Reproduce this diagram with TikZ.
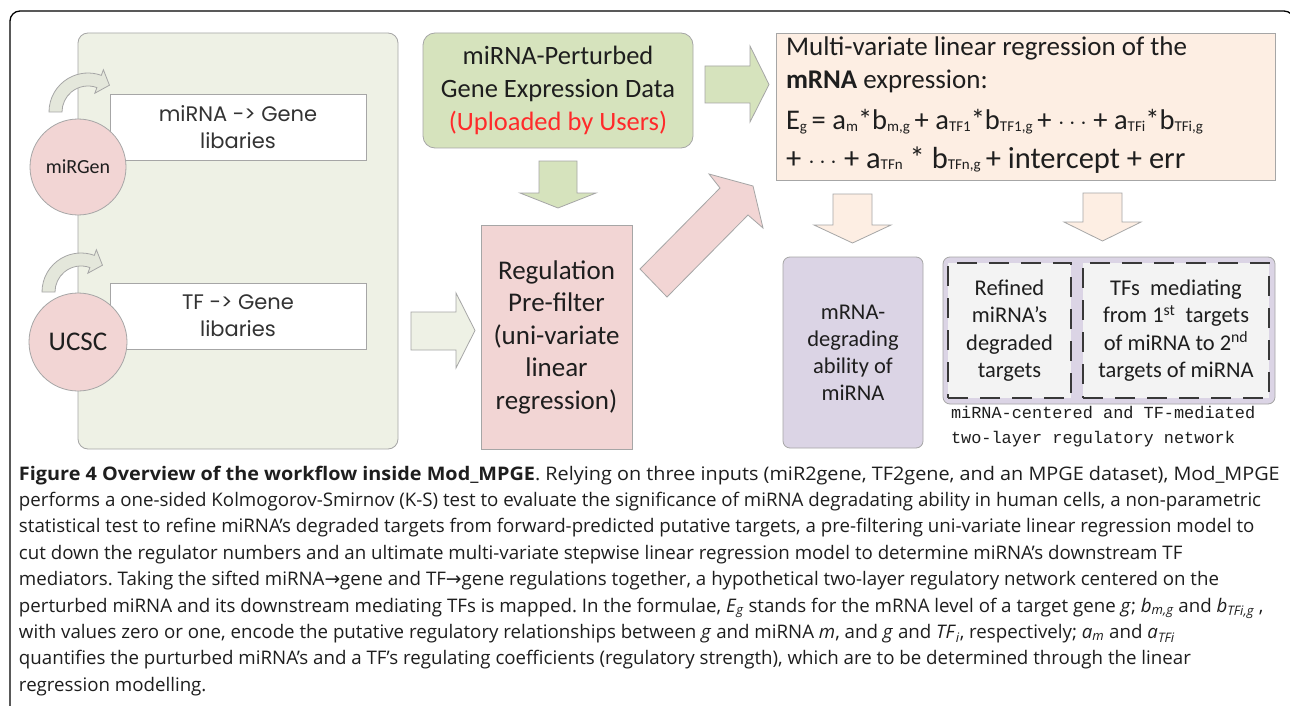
\documentclass[tikz,border=0pt]{standalone}
\usepackage{fontspec}
\setmainfont{Carlito}
\newfontfamily\capfont{Open Sans}
\newfontfamily\geofont{Poppins}
\newfontfamily\monofont{Liberation Mono}
\newfontfamily\arrfont{DejaVu Sans}
\usetikzlibrary{calc}
\definecolor{panelg}{HTML}{EEF1E5}
\definecolor{datag}{HTML}{D6E3BD}
\definecolor{pinkf}{HTML}{F2D5D4}
\definecolor{peach}{HTML}{FDEEE3}
\definecolor{lav}{HTML}{DBD4E5}
\definecolor{dashf}{HTML}{F3F3F3}
\definecolor{edge}{HTML}{A6A6A6}
\definecolor{curvf}{HTML}{E4E7DB}
\definecolor{redtxt}{HTML}{FF2A2A}
\definecolor{txt}{HTML}{1E1E1E}
\newcommand\sbx[1]{\raisebox{-1.5pt}{\fontsize{15}{15}\selectfont #1}}
\newcommand\capsub[1]{\textsubscript{\itshape #1}}
\frenchspacing
\begin{document}
\begin{tikzpicture}[x=1pt,y=-1pt,
  every node/.style={inner sep=0pt,outer sep=0pt,text=txt},
  boxline/.style={draw=edge,line width=0.8pt},
  libbox/.style={boxline,fill=white,minimum width=256pt,minimum height=66pt,align=center,font=\geofont\fontsize{21}{27}\selectfont,text=black!80},
  dbcircle/.style={boxline,circle,fill=pinkf},
  blockarrow/.style={boxline,line join=miter},
  dashbox/.style={draw=black!78,line width=1.8pt,dash pattern=on 20pt off 12pt,fill=dashf,minimum height=135pt,align=center,font=\fontsize{22.5}{27.3}\selectfont},
  capline/.style={anchor=base west,font=\capfont\fontsize{18.7}{22}\selectfont}
]
\useasboundingbox (0,0) rectangle (1290,706);
\clip (0,0) rectangle (1290,706);
\fill[white] (0,0) rectangle (1290,706);
% outer frame
\draw[line width=1.3pt,rounded corners=10pt] (10,720) -- (10,11) -- (1294,11) -- (1294,720);

% left panel
\node[boxline,fill=panelg,rounded corners=10pt,minimum width=320pt,minimum height=416pt] (panel) at (238,241) {};
\node[libbox] (lib1) at (238,127) {miRNA -> Gene\\libaries};
\node[libbox] (lib2) at (238,316) {TF -> Gene\\libaries};

% curved arrows
\coordinate (c1) at (88,112);
\coordinate (c2) at (81,292);
\foreach \c in {c1,c2}{
\filldraw[boxline,fill=curvf,line join=miter]
  ($(\c)+(-180:39)$) arc[start angle=-180,end angle=-70,radius=39]
  -- ($(\c)+(-70:45)$) -- ($(\c)+(-70:32.5)+(20:11)$) -- ($(\c)+(-70:20)$)
  -- ($(\c)+(-70:26)$) arc[start angle=-70,end angle=-180,radius=26] -- cycle;
}

\node[dbcircle,minimum size=96pt,font=\fontsize{20}{22}\selectfont] (mirgen) at (78,167) {miRGen};
\node[dbcircle,minimum size=98pt,font=\fontsize{27}{29}\selectfont] (ucsc) at (78,342) {UCSC};

% data box
\node[boxline,fill=datag,rounded corners=12pt,minimum width=270pt,minimum height=115pt,align=center,font=\fontsize{26.5}{33}\selectfont] (data) at (558,90.5)
  {miRNA-Perturbed\\Gene Expression Data\\\textcolor{redtxt}{(Uploaded by Users)}};

% prefilter
\node[boxline,fill=pinkf,minimum width=151pt,minimum height=224pt,align=center,font=\fontsize{27}{32.5}\selectfont] (pre) at (556.5,337)
  {Regulation\\Pre-filter\\(uni-variate\\linear\\regression)};

% formula box
\node[boxline,fill=peach,minimum width=499pt,minimum height=147pt] (formula) at (1025.5,106.5) {};
\node[anchor=base west,font=\fontsize{27}{28}\selectfont] (f1) at (786,56) {Multi-variate linear regression of the};
\node[anchor=base west,font=\fontsize{27}{28}\selectfont] (f2) at (786,89) {\textbf{mRNA} expression:};
\node[anchor=base west,font=\fontsize{28.5}{30}\selectfont] (f3) at (786,130) {E\sbx{g}\,= a\sbx{m}*b\sbx{m,g}\,+ a\sbx{TF1}*b\sbx{TF1,g}\,+ $\cdots$ + a\sbx{TFi}*b\sbx{TFi,g}};
\node[anchor=base west,font=\fontsize{30.5}{32}\selectfont] (f4) at (786,168) {+ $\cdots$ + a\sbx{TFn} * b\sbx{TFn,g}\,+ intercept + err};

% output boxes
\node[boxline,fill=lav,rounded corners=7pt,minimum width=140pt,minimum height=191pt,align=center,font=\fontsize{22.5}{27}\selectfont] (degr) at (853,352.5)
  {mRNA-\\degrading\\ability of\\miRNA};
\node[boxline,fill=lav,rounded corners=7pt,minimum width=332pt,minimum height=147pt] (net) at (1109,330.5) {};
\node[dashbox,minimum width=123pt] (refined) at (1009.5,330.5) {Refined\\miRNA’s\\degraded\\targets};
\node[dashbox,minimum width=186pt] (tfs) at (1176,330.5) {TFs\ \ mediating\\from 1\textsuperscript{st}\ \ targets\\of miRNA to 2\textsuperscript{nd}\\targets of miRNA};
\node[anchor=north west,align=left,font=\monofont\fontsize{16.9}{25}\selectfont] (netlabel) at (951,406)
  {miRNA-centered and TF-mediated\\two-layer regulatory network};

% block arrows
\filldraw[blockarrow,fill=datag] (705,66) -- (750,66) -- (750,46) -- (769,84.5) -- (750,122) -- (750,103) -- (705,103) -- cycle;
\filldraw[blockarrow,fill=datag] (539,161) -- (577,161) -- (577,193) -- (596,193) -- (558,208) -- (520,193) -- (539,193) -- cycle;
\filldraw[blockarrow,fill=panelg] (411,312) -- (456,312) -- (456,293) -- (475,330.5) -- (456,368) -- (456,350) -- (411,350) -- cycle;
\filldraw[blockarrow,fill=pinkf] (640,269) -- (720,188) -- (709,174) -- (753,186) -- (763,228) -- (748,215) -- (667,297) -- cycle;
\filldraw[blockarrow,fill=peach] (833,194) -- (872,194) -- (872,225) -- (891,225) -- (852.5,243) -- (814,225) -- (833,225) -- cycle;
\filldraw[blockarrow,fill=peach] (1083,193) -- (1122,193) -- (1122,222) -- (1141,222) -- (1102.5,241) -- (1064,222) -- (1083,222) -- cycle;

% caption
\node[capline] (cap1) at (19,480) {\scalebox{1.06}[1]{\textbf{Figure 4 Overview of the workflow inside Mod\_MPGE}. Relying on three inputs (miR2gene, TF2gene, and an MPGE dataset), Mod\_MPGE}};
\node[capline] (cap2) at (19,506.4) {performs a one-sided Kolmogorov-Smirnov (K-S) test to evaluate the significance of miRNA degradating ability in human cells, a non-parametric};
\node[capline] (cap3) at (19,532.8) {statistical test to refine miRNA’s degraded targets from forward-predicted putative targets, a pre-filtering uni-variate linear regression model to};
\node[capline] (cap4) at (19,559.2) {cut down the regulator numbers and an ultimate multi-variate stepwise linear regression model to determine miRNA’s downstream TF};
\node[capline] (cap5) at (19,585.6) {mediators. Taking the sifted miRNA{\arrfont →}gene and TF{\arrfont →}gene regulations together, a hypothetical two-layer regulatory network centered on the};
\node[capline] (cap6) at (19,612) {perturbed miRNA and its downstream mediating TFs is mapped. In the formulae, \textit{E}\capsub{g} stands for the mRNA level of a target gene \textit{g}; \textit{b}\capsub{m,g} and \textit{b}\capsub{TFi,g} ,};
\node[capline] (cap7) at (19,638.4) {with values zero or one, encode the putative regulatory relationships between \textit{g} and miRNA \textit{m}, and \textit{g} and \textit{TF}\capsub{i}, respectively; \textit{a}\capsub{m} and \textit{a}\capsub{TFi}};
\node[capline] (cap8) at (19,664.8) {quantifies the purturbed miRNA’s and a TF’s regulating coefficients (regulatory strength), which are to be determined through the linear};
\node[capline] (cap9) at (19,691.2) {regression modelling.};
\end{tikzpicture}
\end{document}
